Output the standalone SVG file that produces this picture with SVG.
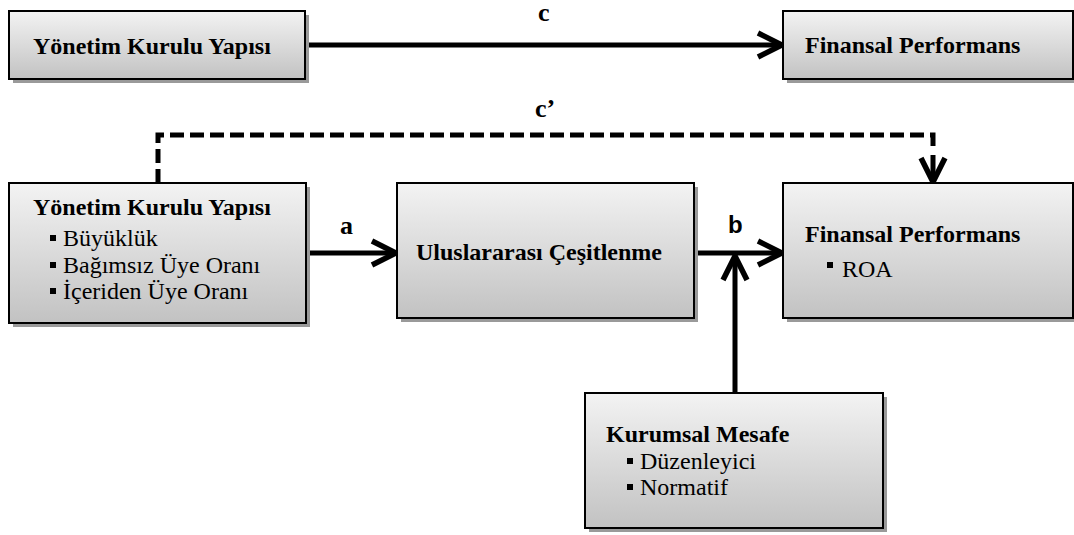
<svg xmlns="http://www.w3.org/2000/svg" width="1074" height="535" viewBox="0 0 1074 535">
<defs>
<linearGradient id="g" x1="0" y1="0" x2="0" y2="1">
<stop offset="0" stop-color="#f3f3f3"/>
<stop offset="1" stop-color="#c2c2c2"/>
</linearGradient>
<marker id="ah" viewBox="0 0 30 30" markerWidth="30" markerHeight="30" refX="27" refY="15" orient="auto" markerUnits="userSpaceOnUse">
<path d="M3,3 L27,15 L3,27" fill="none" stroke="#000" stroke-width="5.5" stroke-linejoin="miter"/>
</marker>
</defs>
<style>
.box{fill:url(#g);stroke:#000;stroke-width:2}
.sh{fill:#9a9a9a}
.t{font-family:"Times New Roman","Liberation Serif","DejaVu Serif",serif;font-size:24px;fill:#000}
.b{font-weight:bold}
.lab{font-family:"Times New Roman","Liberation Serif","DejaVu Serif",serif;font-size:26px;font-weight:bold;fill:#000}
.labs{font-family:"Liberation Sans",Arial,sans-serif;font-size:24px;font-weight:bold;fill:#000}
.ln{fill:none;stroke:#000;stroke-width:5}
.dash{fill:none;stroke:#000;stroke-width:5;stroke-dasharray:14 6}
.bul{fill:#000}
</style>
<g id="connectors">
<line class="ln" x1="306" y1="45" x2="782" y2="45" marker-end="url(#ah)"/>
<path class="dash" d="M158,183 L158,135 L933,135 L933,150"/>
<line class="ln" x1="933" y1="155" x2="933" y2="182" marker-end="url(#ah)"/>
<line class="ln" x1="306" y1="253" x2="396" y2="253" marker-end="url(#ah)"/>
<line class="ln" x1="694" y1="253" x2="782" y2="253" marker-end="url(#ah)"/>
<line class="ln" x1="735" y1="393" x2="735" y2="256" marker-end="url(#ah)"/>
<text class="lab" x="538" y="21">c</text>
<text class="lab" x="535" y="117">c’</text>
<text class="lab" x="340" y="234">a</text>
<text class="labs" x="728" y="233">b</text>
</g>
<g id="n1">
<rect class="sh" x="13" y="15" width="296" height="68"/>
<rect class="box" x="9" y="11" width="296" height="68"/>
<text class="t b" x="33" y="54">Yönetim Kurulu Yapısı</text>
</g>
<g id="n2">
<rect class="sh" x="787" y="15" width="290" height="68"/>
<rect class="box" x="783" y="11" width="290" height="68"/>
<text class="t b" x="805" y="53">Finansal Performans</text>
</g>
<g id="n3">
<rect class="sh" x="13" y="187" width="297" height="140"/>
<rect class="box" x="9" y="183" width="297" height="140"/>
<text class="t b" x="33" y="215">Yönetim Kurulu Yapısı</text>
<rect class="bul" x="50" y="235" width="6" height="6"/>
<text class="t" x="63" y="246">Büyüklük</text>
<rect class="bul" x="50" y="262" width="6" height="6"/>
<text class="t" x="63" y="273">Bağımsız Üye Oranı</text>
<rect class="bul" x="50" y="288" width="6" height="6"/>
<text class="t" x="63" y="299">İçeriden Üye Oranı</text>
</g>
<g id="n4">
<rect class="sh" x="401" y="187" width="297" height="135"/>
<rect class="box" x="397" y="183" width="297" height="135"/>
<text class="t b" x="416" y="260">Uluslararası Çeşitlenme</text>
</g>
<g id="n5">
<rect class="sh" x="787" y="187" width="290" height="135"/>
<rect class="box" x="783" y="183" width="290" height="135"/>
<text class="t b" x="805" y="242">Finansal Performans</text>
<rect class="bul" x="827" y="262" width="6" height="6"/>
<text class="t" x="842" y="277">ROA</text>
</g>
<g id="n6">
<rect class="sh" x="589" y="397" width="298" height="135"/>
<rect class="box" x="585" y="393" width="298" height="135"/>
<text class="t b" x="606" y="442">Kurumsal Mesafe</text>
<rect class="bul" x="627" y="458" width="6" height="6"/>
<text class="t" x="640" y="469">Düzenleyici</text>
<rect class="bul" x="627" y="484" width="6" height="6"/>
<text class="t" x="640" y="495">Normatif</text>
</g>
</svg>
